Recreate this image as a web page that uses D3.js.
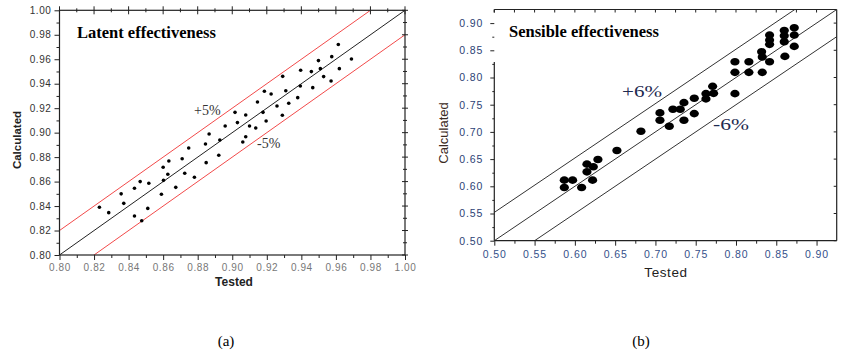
<!DOCTYPE html>
<html><head><meta charset="utf-8">
<script src="https://cdn.jsdelivr.net/npm/d3@7"></script>
<style>body{margin:0;background:#fff}svg{display:block}</style>
</head><body>
<svg id="c" width="845" height="356"></svg>
<script>
// ---------- data ----------
const latentTested = [0.8231,0.8285,0.8357,0.8372,0.8434,0.8434,0.8467,0.8476,0.8517,0.8511,0.8590,0.8600,0.8602,0.8633,0.8627,0.8673,0.8710,0.8725,0.8748,0.8781,0.8845,0.8849,0.8866,0.8922,0.8928,0.8959,0.9016,0.9030,0.9061,0.9078,0.9078,0.9100,0.9136,0.9146,0.9178,0.9186,0.9196,0.9225,0.9259,0.9292,0.9290,0.9310,0.9327,0.9379,0.9394,0.9396,0.9458,0.9466,0.9499,0.9510,0.9529,0.9572,0.9576,0.9614,0.9620,0.9690];
const latentCalc   = [0.8390,0.8346,0.8500,0.8422,0.8545,0.8319,0.8600,0.8280,0.8586,0.8381,0.8496,0.8717,0.8610,0.8768,0.8660,0.8553,0.8787,0.8668,0.8875,0.8635,0.8907,0.8755,0.8989,0.8815,0.8940,0.9054,0.9166,0.9082,0.8924,0.8967,0.9144,0.9054,0.9038,0.9250,0.9166,0.9338,0.9095,0.9316,0.9218,0.9460,0.9142,0.9343,0.9240,0.9286,0.9381,0.9510,0.9499,0.9368,0.9589,0.9523,0.9458,0.9422,0.9621,0.9720,0.9523,0.9602];
const sensibleTested = [0.5869,0.5869,0.5972,0.6084,0.6150,0.6150,0.6229,0.6220,0.6286,0.6522,0.6820,0.7056,0.7056,0.7172,0.7217,0.7308,0.7354,0.7354,0.7482,0.7482,0.7627,0.7627,0.7710,0.7722,0.7987,0.7987,0.7987,0.8160,0.8160,0.8318,0.8326,0.8326,0.8417,0.8417,0.8417,0.8417,0.8599,0.8599,0.8599,0.8607,0.8723,0.8723,0.8723];
const sensibleCalc   = [0.6113,0.5979,0.6113,0.5979,0.6407,0.6266,0.6358,0.6113,0.6492,0.6657,0.7012,0.7349,0.7214,0.7104,0.7416,0.7416,0.7538,0.7214,0.7618,0.7336,0.7703,0.7606,0.7838,0.7709,0.8290,0.8095,0.7703,0.8290,0.8095,0.8474,0.8376,0.8095,0.8780,0.8688,0.8609,0.8290,0.8865,0.8768,0.8657,0.8388,0.8914,0.8780,0.8572];
const latentTicks   = [0.80,0.82,0.84,0.86,0.88,0.90,0.92,0.94,0.96,0.98,1.00];
const latentMinor   = [0.81,0.83,0.85,0.87,0.89,0.91,0.93,0.95,0.97,0.99];
const sensibleTicks = [0.50,0.55,0.60,0.65,0.70,0.75,0.80,0.85,0.90];
const sensibleMinor = [0.525,0.575,0.625,0.675,0.725,0.775,0.825,0.875,0.925];
const latentBand   = [0.02, 0, -0.02];
const sensibleBand = [0.052, 0, -0.05];
const latentBandColors = ["#f24a4a","#222","#f24a4a"];
const sensibleBandColors = ["#333","#333","#333"];

const svg = d3.select("#c");
const fmt = d3.format(".2f");

function bandLines(g, x, y, offs, colors, id) {
  const [x0,x1] = x.domain();
  svg.append("clipPath").attr("id", id).append("rect")
    .attr("x", x.range()[0]).attr("y", y.range()[1])
    .attr("width", x.range()[1]-x.range()[0]).attr("height", y.range()[0]-y.range()[1]);
  g.append("g").attr("clip-path", `url(#${id})`).selectAll("line").data(offs).join("line")
    .attr("x1", x(x0-0.1)).attr("y1", d => y(x0-0.1+d))
    .attr("x2", x(x1+0.1)).attr("y2", d => y(x1+0.1+d))
    .attr("stroke", (d,i) => colors[i]).attr("stroke-width", 1);
}

// ---------- chart (a) ----------
{
  const x = d3.scaleLinear([0.80,1.00],[59.5,405]);
  const y = d3.scaleLinear([0.80,1.00],[255,10.3]);
  const g = svg.append("g");
  const [L,R] = x.range(), [B,T] = y.range();

  bandLines(g, x, y, latentBand, latentBandColors, "clipA");

  g.append("rect").attr("x",L).attr("y",T).attr("width",R-L).attr("height",B-T)
    .attr("fill","none").attr("stroke","#222").attr("stroke-width",1.2);

  // bottom axis
  const bx = g.append("g").attr("transform",`translate(0,${B})`)
    .call(d3.axisBottom(x).tickValues(latentTicks).tickFormat(fmt).tickSize(5).tickPadding(4));
  bx.select(".domain").remove();
  bx.selectAll("text").attr("fill","#777").style("font","10px Arial").style("letter-spacing","0.6px");
  bx.selectAll("line").attr("stroke","#222");
  const bxm = g.append("g").attr("transform",`translate(0,${B})`)
    .call(d3.axisBottom(x).tickValues(latentMinor).tickFormat("").tickSize(3));
  bxm.select(".domain").remove(); bxm.selectAll("line").attr("stroke","#222");

  // left axis
  const ly = g.append("g").attr("transform",`translate(${L},0)`)
    .call(d3.axisLeft(y).tickValues(latentTicks).tickFormat(fmt).tickSize(5).tickPadding(3));
  ly.select(".domain").remove();
  ly.selectAll("text").attr("fill","#333").style("font","10px Arial").style("letter-spacing","0.6px");
  ly.selectAll("line").attr("stroke","#222");
  const lym = g.append("g").attr("transform",`translate(${L},0)`)
    .call(d3.axisLeft(y).tickValues(latentMinor).tickFormat("").tickSize(3));
  lym.select(".domain").remove(); lym.selectAll("line").attr("stroke","#222");

  // top & right crossing ticks
  g.append("g").selectAll("line").data(latentTicks).join("line")
    .attr("x1",d=>x(d)).attr("x2",d=>x(d)).attr("y1",T-4).attr("y2",T+4).attr("stroke","#222");
  g.append("g").selectAll("line").data(latentMinor).join("line")
    .attr("x1",d=>x(d)).attr("x2",d=>x(d)).attr("y1",T-2).attr("y2",T+2).attr("stroke","#222");
  g.append("g").selectAll("line").data(latentTicks).join("line")
    .attr("y1",d=>y(d)).attr("y2",d=>y(d)).attr("x1",R-3).attr("x2",R+3).attr("stroke","#222");
  g.append("g").selectAll("line").data(latentMinor).join("line")
    .attr("y1",d=>y(d)).attr("y2",d=>y(d)).attr("x1",R-2).attr("x2",R+2).attr("stroke","#222");

  // points
  g.append("g").selectAll("circle").data(latentTested).join("circle")
    .attr("cx",d=>x(d)).attr("cy",(d,i)=>y(latentCalc[i])).attr("r",1.8).attr("fill","#000");

  g.append("text").attr("x",77).attr("y",38).text("Latent effectiveness")
    .style("font","bold 16.5px 'Liberation Serif', 'Times New Roman', serif").attr("fill","#000");
  g.append("text").attr("x",194).attr("y",115).text("+5%")
    .style("font","14px 'Liberation Serif', serif").attr("fill","#333");
  g.append("text").attr("x",257).attr("y",148).text("-5%")
    .style("font","14px 'Liberation Serif', serif").attr("fill","#333");

  g.append("text").attr("transform",`translate(21,140) rotate(-90)`).attr("text-anchor","middle")
    .text("Calculated").style("font","bold 11.5px Arial").attr("fill","#222");
  g.append("text").attr("x",234).attr("y",286).attr("text-anchor","middle")
    .text("Tested").style("font","bold 12px Arial").attr("fill","#222");
  g.append("text").attr("x",226).attr("y",346).attr("text-anchor","middle")
    .text("(a)").style("font","15px 'Liberation Serif', serif").attr("fill","#000");
}

// ---------- chart (b) ----------
{
  const x = d3.scaleLinear([0.50,0.925],[494.3,836.7]);
  const y = d3.scaleLinear([0.50,0.925],[240.7,9.5]);
  const g = svg.append("g");
  const [L,R] = x.range(), [B,T] = y.range();
  const navy = "#2c3f75";

  bandLines(g, x, y, sensibleBand, sensibleBandColors, "clipB");

  // frame: top, right, bottom; left with gap behind title
  const frame = [[L,T,R,T],[R,T,R,B],[L,B,R,B],[L,T,L,T+3],[L,62,L,B]];
  g.append("g").selectAll("line").data(frame).join("line")
    .attr("x1",d=>d[0]).attr("y1",d=>d[1]).attr("x2",d=>d[2]).attr("y2",d=>d[3])
    .attr("stroke","#222").attr("stroke-width",1.2);

  const bx = g.append("g").attr("transform",`translate(0,${B})`)
    .call(d3.axisBottom(x).tickValues(sensibleTicks).tickFormat(fmt).tickSize(5).tickPadding(5));
  bx.select(".domain").remove();
  bx.selectAll("text").attr("fill","#34508a").style("font","10.5px Arial").style("letter-spacing","0.9px");
  bx.selectAll("line").attr("stroke","#222");
  const bxm = g.append("g").attr("transform",`translate(0,${B})`)
    .call(d3.axisBottom(x).tickValues(sensibleMinor.filter(d=>d<0.92)).tickFormat("").tickSize(3));
  bxm.select(".domain").remove(); bxm.selectAll("line").attr("stroke","#222");

  const ly = g.append("g").attr("transform",`translate(${L},0)`)
    .call(d3.axisLeft(y).tickValues(sensibleTicks).tickFormat(fmt).tickSize(4).tickPadding(7));
  ly.select(".domain").remove();
  ly.selectAll("text").attr("fill",navy).style("font","10.5px Arial").style("letter-spacing","0.9px");
  ly.selectAll("line").attr("stroke","#222");
  const lym = g.append("g").attr("transform",`translate(${L},0)`)
    .call(d3.axisLeft(y).tickValues(sensibleMinor.filter(d=>d<0.92)).tickFormat("").tickSize(2));
  lym.select(".domain").remove(); lym.selectAll("line").attr("stroke","#222");

  // top and right inward ticks
  g.append("g").selectAll("line").data(sensibleTicks.concat(sensibleMinor).filter(d=>d<0.92)).join("line")
    .attr("x1",d=>x(d)).attr("x2",d=>x(d)).attr("y1",T).attr("y2",T+3).attr("stroke","#222");
  g.append("g").selectAll("line").data(sensibleTicks).join("line")
    .attr("y1",d=>y(d)).attr("y2",d=>y(d)).attr("x1",R-3).attr("x2",R).attr("stroke","#222");

  g.append("g").selectAll("ellipse").data(sensibleTested).join("ellipse")
    .attr("cx",d=>x(d)).attr("cy",(d,i)=>y(sensibleCalc[i])).attr("rx",4.6).attr("ry",3.8).attr("fill","#000");

  g.append("text").attr("x",509).attr("y",37).text("Sensible effectiveness")
    .style("font","bold 16.5px 'Liberation Serif', 'Times New Roman', serif").attr("fill","#000");
  g.append("text").attr("x",622).attr("y",97).attr("textLength",40).attr("lengthAdjust","spacingAndGlyphs")
    .text("+6%").style("font","17px 'Liberation Serif', serif").attr("fill","#1e2a50");
  g.append("text").attr("x",713).attr("y",130).attr("textLength",36).attr("lengthAdjust","spacingAndGlyphs")
    .text("-6%").style("font","17px 'Liberation Serif', serif").attr("fill","#1e2a50");

  g.append("text").attr("transform",`translate(448,133) rotate(-90)`).attr("text-anchor","middle")
    .text("Calculated").style("font","13px Arial").attr("fill","#3a2a22");
  g.append("text").attr("x",666).attr("y",277).attr("text-anchor","middle")
    .text("Tested").style("font","13.5px Arial").style("letter-spacing","0.6px").attr("fill","#222");
  g.append("text").attr("x",641).attr("y",346).attr("text-anchor","middle")
    .text("(b)").style("font","15px 'Liberation Serif', serif").attr("fill","#000");
}
</script>
</body></html>
